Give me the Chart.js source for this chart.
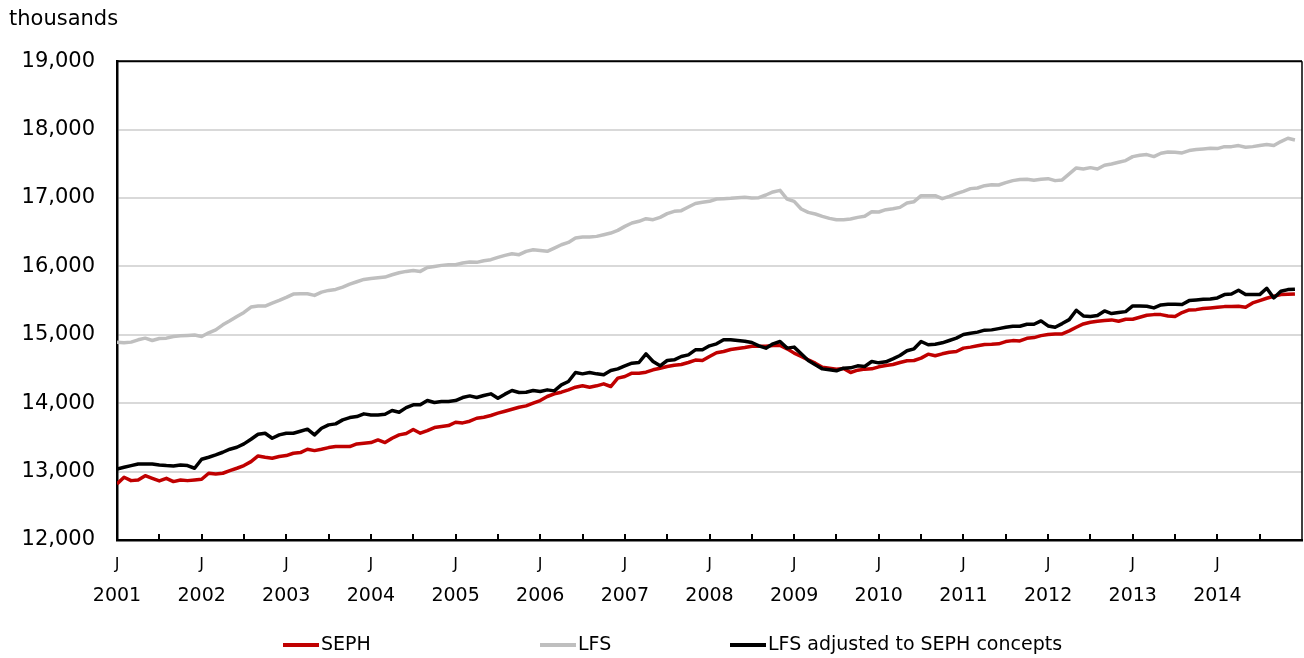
<!DOCTYPE html>
<html>
<head>
<meta charset="utf-8">
<script src="https://cdn.jsdelivr.net/npm/chart.js@4.4.1/dist/chart.umd.min.js"></script>
<style>
  html, body { margin: 0; padding: 0; background: #ffffff; }
  canvas { display: block; }
</style>
</head>
<body>
<canvas id="c" width="1304" height="658"></canvas>
<script>
// ---- data (thousands), monthly Jan 2001 .. Dec 2014 ----
const years = [2001, 2002, 2003, 2004, 2005, 2006, 2007, 2008, 2009, 2010, 2011, 2012, 2013, 2014];
const monthLetter = 'J';
const unitLabel = 'thousands';
const seriesNames = ['SEPH', 'LFS', 'LFS adjusted to SEPH concepts'];

const seph = [
  12820, 12917, 12868, 12878, 12941, 12902, 12863, 12902, 12854, 12878, 12868, 12878,
  12888, 12976, 12966, 12976, 13015, 13049, 13088, 13146, 13229, 13210, 13195, 13220,
  13234, 13268, 13278, 13327, 13307, 13327, 13351, 13366, 13366, 13366, 13405, 13415,
  13424, 13463, 13424, 13488, 13537, 13556, 13615, 13561, 13600, 13644, 13659, 13673,
  13722, 13712, 13737, 13780, 13795, 13820, 13854, 13883, 13912, 13941, 13961, 14000,
  14039, 14098, 14137, 14161, 14195, 14234, 14254, 14234, 14254, 14283, 14244, 14366,
  14390, 14439, 14439, 14454, 14488, 14512, 14537, 14556, 14566, 14595, 14630, 14624,
  14683, 14737, 14756, 14785, 14800, 14815, 14834, 14834, 14834, 14844, 14844, 14795,
  14732, 14683, 14634, 14585, 14527, 14512, 14498, 14507, 14449, 14483, 14498, 14502,
  14532, 14551, 14566, 14595, 14620, 14624, 14659, 14717, 14693, 14722, 14746, 14756,
  14805, 14820, 14839, 14859, 14862, 14868, 14901, 14915, 14910, 14949, 14959, 14988,
  15003, 15013, 15013, 15057, 15110, 15159, 15183, 15198, 15208, 15218, 15198, 15227,
  15227, 15256, 15286, 15295, 15295, 15276, 15266, 15325, 15364, 15368, 15383, 15393,
  15403, 15412, 15412, 15417, 15403, 15466, 15500, 15534, 15563, 15588, 15593, 15598
];

const lfs = [
  14893, 14883, 14893, 14927, 14951, 14917, 14946, 14951, 14976, 14985, 14990, 14997,
  14976, 15029, 15073, 15146, 15205, 15268, 15327, 15405, 15420, 15420, 15463, 15502,
  15546, 15595, 15600, 15600, 15576, 15624, 15649, 15663, 15698, 15741, 15776, 15810,
  15824, 15834, 15844, 15878, 15907, 15927, 15941, 15927, 15985, 16000, 16015, 16024,
  16024, 16049, 16063, 16059, 16083, 16098, 16132, 16161, 16185, 16171, 16220, 16244,
  16234, 16220, 16268, 16317, 16351, 16415, 16429, 16429, 16439, 16463, 16488, 16527,
  16585, 16634, 16659, 16698, 16683, 16717, 16771, 16805, 16815, 16868, 16920, 16937,
  16951, 16985, 16990, 16995, 17005, 17010, 17000, 17005, 17044, 17088, 17112, 16985,
  16951, 16839, 16790, 16766, 16732, 16702, 16683, 16683, 16693, 16717, 16732, 16800,
  16795, 16829, 16844, 16863, 16927, 16946, 17034, 17034, 17034, 16990, 17024, 17063,
  17098, 17137, 17146, 17180, 17193, 17190, 17225, 17254, 17269, 17274, 17259, 17274,
  17283, 17254, 17264, 17352, 17440, 17425, 17444, 17425, 17479, 17498, 17522, 17547,
  17605, 17625, 17635, 17605, 17654, 17673, 17669, 17659, 17693, 17708, 17717, 17727,
  17722, 17751, 17751, 17766, 17742, 17751, 17766, 17781, 17766, 17825, 17873, 17849
];

const lfsAdjusted = [
  13039, 13063, 13088, 13112, 13112, 13112, 13098, 13088, 13083, 13098, 13088, 13049,
  13180, 13210, 13244, 13283, 13327, 13356, 13405, 13473, 13546, 13561, 13488, 13537,
  13561, 13561, 13590, 13620, 13537, 13634, 13683, 13698, 13756, 13790, 13805, 13844,
  13829, 13829, 13839, 13893, 13868, 13935, 13976, 13976, 14039, 14010, 14024, 14024,
  14039, 14083, 14107, 14083, 14112, 14137, 14073, 14132, 14185, 14156, 14161, 14185,
  14171, 14195, 14180, 14268, 14317, 14449, 14429, 14449, 14429, 14415, 14478, 14502,
  14546, 14585, 14595, 14722, 14610, 14546, 14624, 14634, 14683, 14707, 14780, 14780,
  14839, 14868, 14927, 14927, 14917, 14907, 14888, 14839, 14805, 14868, 14902, 14805,
  14820, 14722, 14624, 14561, 14502, 14488, 14473, 14512, 14517, 14546, 14537, 14610,
  14590, 14605, 14649, 14698, 14766, 14795, 14902, 14854, 14863, 14883, 14917, 14951,
  15005, 15024, 15039, 15068, 15072, 15090, 15110, 15125, 15125, 15154, 15154, 15203,
  15130, 15110, 15164, 15222, 15359, 15276, 15266, 15281, 15349, 15310, 15325, 15339,
  15422, 15422, 15417, 15393, 15437, 15446, 15446, 15442, 15500, 15510, 15519, 15524,
  15539, 15588, 15597, 15651, 15588, 15588, 15588, 15680, 15539, 15636, 15661, 15666
];

const yMin = 12000, yMax = 19000, yStep = 1000;

// ---- chart ----
const FONT = "'DejaVu Sans', Verdana, sans-serif";
const nMonths = years.length * 12;
const toPoints = arr => arr.map((v, i) => ({ x: i, y: v }));

const frameAndTicks = {
  id: 'frameAndTicks',
  afterDraw(chart) {
    const { ctx, chartArea: a, scales: { x } } = chart;
    ctx.save();
    ctx.strokeStyle = '#000';
    // inward tick marks every 6 months
    ctx.lineWidth = 2;
    x.ticks.forEach(t => {
      if (t.value > 0 && t.value < nMonths) {
        const px = Math.round(x.getPixelForValue(t.value));
        ctx.beginPath();
        ctx.moveTo(px, a.bottom);
        ctx.lineTo(px, a.bottom - 6);
        ctx.stroke();
      }
    });
    // top and right frame
    ctx.lineWidth = 2;
    ctx.beginPath();
    ctx.moveTo(a.left, a.top);
    ctx.lineTo(a.right, a.top);
    ctx.stroke();
    ctx.lineWidth = 1.5;
    ctx.beginPath();
    ctx.moveTo(a.right, a.top);
    ctx.lineTo(a.right, a.bottom);
    ctx.stroke();
    ctx.restore();
  }
};

const customLegend = {
  id: 'customLegend',
  afterDraw(chart, args, opts) {
    const { ctx } = chart;
    ctx.save();
    ctx.font = opts.font;
    ctx.textBaseline = 'middle';
    ctx.textAlign = 'left';
    chart.data.datasets.forEach((ds, i) => {
      const x0 = opts.starts[i];
      ctx.strokeStyle = ds.borderColor;
      ctx.lineWidth = 4;
      ctx.beginPath();
      ctx.moveTo(x0, opts.y);
      ctx.lineTo(x0 + opts.lineLength, opts.y);
      ctx.stroke();
      ctx.fillStyle = '#000';
      ctx.fillText(ds.label, x0 + opts.lineLength + 2, opts.y);
    });
    ctx.restore();
  }
};

const noSidePadding = s => { s.paddingLeft = 0; s.paddingRight = 0; };

new Chart(document.getElementById('c'), {
  type: 'line',
  data: {
    datasets: [
      { label: seriesNames[0], data: toPoints(seph), borderColor: '#c00000', borderWidth: 3.5, order: 1 },
      { label: seriesNames[1], data: toPoints(lfs), borderColor: '#bfbfbf', borderWidth: 3.5, order: 2 },
      { label: seriesNames[2], data: toPoints(lfsAdjusted), borderColor: '#000000', borderWidth: 3.5, order: 0 }
    ]
  },
  options: {
    responsive: false,
    animation: false,
    devicePixelRatio: 1,
    layout: { padding: { left: 9, right: 2, top: 0, bottom: 50 } },
    elements: { point: { radius: 0 }, line: { tension: 0, fill: false, borderJoinStyle: 'round' } },
    plugins: {
      legend: { display: false },
      tooltip: { enabled: false },
      title: {
        display: true,
        text: unitLabel,
        align: 'start',
        color: '#000',
        font: { family: FONT, size: 21, weight: 'normal' },
        padding: { top: 7, bottom: 29 }
      },
      customLegend: { starts: [283, 540, 730], y: 645, lineLength: 36, font: "19px " + FONT }
    },
    scales: {
      x: {
        type: 'linear',
        position: 'bottom',
        min: 0,
        max: nMonths,
        grid: { display: false, drawTicks: false },
        border: { display: true, color: '#000', width: 2.5 },
        ticks: {
          stepSize: 6,
          autoSkip: false,
          maxRotation: 0,
          padding: 15,
          color: '#000',
          font: { family: FONT, size: 16 },
          callback: v => (v % 12 === 0 && v < nMonths) ? monthLetter : ''
        },
        afterFit: s => { s.height = 34; noSidePadding(s); }
      },
      x2: {
        type: 'linear',
        position: 'bottom',
        min: 0,
        max: nMonths,
        grid: { display: false, drawTicks: false },
        border: { display: false },
        ticks: {
          stepSize: 12,
          autoSkip: false,
          maxRotation: 0,
          padding: 11,
          color: '#000',
          font: { family: FONT, size: 19 },
          callback: v => (v < nMonths) ? String(years[v / 12]) : ''
        },
        afterFit: s => { s.height = 34; noSidePadding(s); }
      },
      y: {
        type: 'linear',
        min: yMin,
        max: yMax,
        grid: { color: '#d9d9d9', lineWidth: 2, drawTicks: false },
        border: { display: true, color: '#000', width: 2.5 },
        ticks: {
          stepSize: yStep,
          padding: 22,
          color: '#000',
          font: { family: FONT, size: 21 },
          callback: v => v.toLocaleString('en-US')
        },
        afterFit: s => { s.width = 108; }
      }
    }
  },
  plugins: [frameAndTicks, customLegend]
});
</script>
</body>
</html>
